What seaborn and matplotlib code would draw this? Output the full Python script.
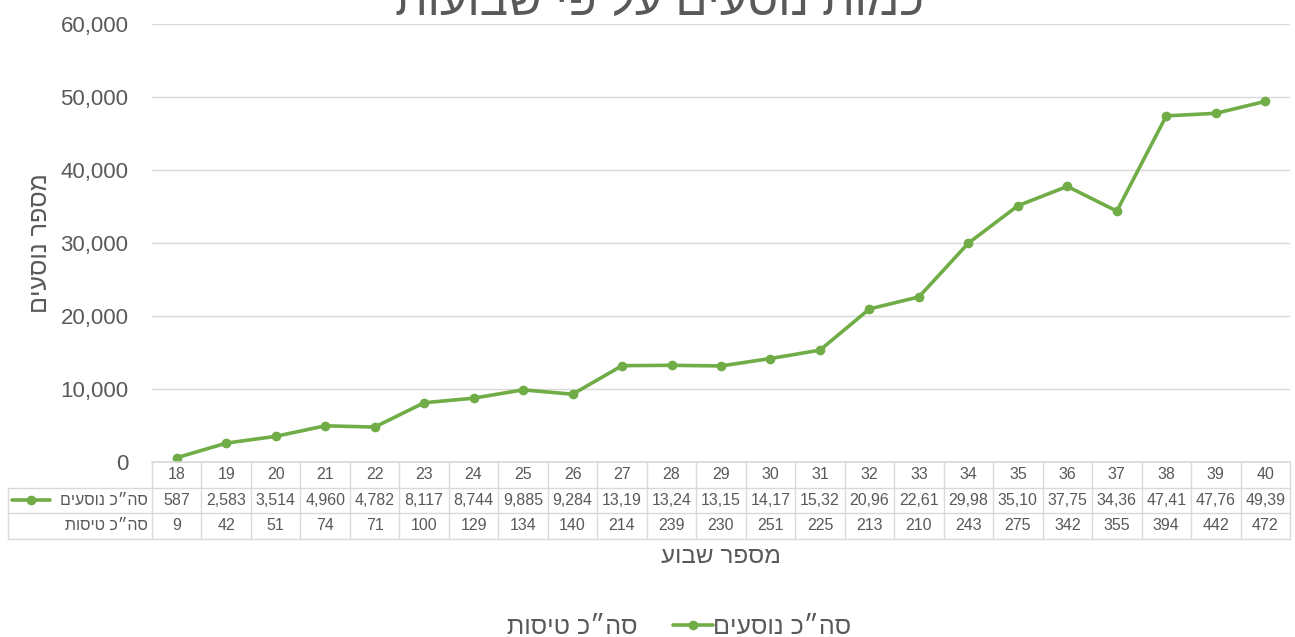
import matplotlib
matplotlib.use("Agg")
import matplotlib.pyplot as plt
import seaborn as sns
import pandas as pd
from matplotlib.lines import Line2D

weeks = list(range(18, 41))
passengers = [587, 2583, 3514, 4960, 4782, 8117, 8744, 9885, 9284, 13195, 13245, 13155,
              14175, 15325, 20965, 22615, 29985, 35105, 37755, 34365, 47415, 47765, 49395]
flights = [9, 42, 51, 74, 71, 100, 129, 134, 140, 214, 239, 230,
           251, 225, 213, 210, 243, 275, 342, 355, 394, 442, 472]
y_ticks = [0, 10000, 20000, 30000, 40000, 50000, 60000]

title = "כמות נוסעים על פי שבועות"
x_label = "מספר שבוע"
y_label = "מספר נוסעים"
pass_label = "סה״כ נוסעים"
flights_label = "סה״כ טיסות"


def heb(s):
    # matplotlib lays text out left to right, so flip Hebrew into visual order
    return s[::-1]


green = "#70AD47"
grey_txt = "#595959"
grid_col = "#D9D9D9"

sns.set_theme(style="white")
plt.rcParams['font.family'] = ['Liberation Sans', 'DejaVu Sans']

fig = plt.figure(figsize=(12.95, 6.37), dpi=100)
ax = fig.add_axes([152 / 1295, 1 - 462 / 637, 1138 / 1295, 438 / 637])

df = pd.DataFrame({"week": weeks, "passengers": passengers})
sns.lineplot(data=df, x="week", y="passengers", ax=ax, color=green, linewidth=2.6,
             marker="o", markersize=7, markeredgewidth=0)

ax.set_xlim(weeks[0] - 0.5, weeks[-1] + 0.5)
ax.set_ylim(0, 60000)
ax.set_yticks(y_ticks)
ax.set_yticklabels([f"{v:,}" for v in y_ticks], fontsize=16, color=grey_txt)
ax.set_xticks([])
ax.tick_params(axis="y", length=0, pad=17)
ax.yaxis.grid(True, color=grid_col, linewidth=1)
for s in ["top", "right", "left"]:
    ax.spines[s].set_visible(False)
ax.spines["bottom"].set_color(grid_col)
ax.set_xlabel("")
ax.set_ylabel(heb(y_label), fontsize=18, color=grey_txt, labelpad=6)

# data table under the axis
tr = ax.get_xaxis_transform()
rh = 25.5 / 438
col_px = 1138 / len(weeks)
x0 = weeks[0] - 0.5
x1 = weeks[-1] + 0.5
lab_left = x0 - 144 / col_px
lk = dict(color=grid_col, linewidth=1, transform=tr, clip_on=False)

for k in (1, 2, 3):
    ax.plot([lab_left, x1], [-k * rh, -k * rh], **lk)
for i in range(len(weeks) + 1):
    ax.plot([x0 + i, x0 + i], [0, -3 * rh], **lk)
ax.plot([lab_left, lab_left], [-rh, -3 * rh], **lk)

fs_tab = 11.5
tk = dict(ha="center", va="center", fontsize=fs_tab, color=grey_txt, transform=tr, clip_on=False)
for w, p, f in zip(weeks, passengers, flights):
    ax.text(w, -0.5 * rh, str(w), **tk)
    ax.text(w, -1.5 * rh, f"{p:,}"[:5], **tk)
    ax.text(w, -2.5 * rh, str(f), **tk)

lab_x = x0 - 4 / col_px
ax.text(lab_x, -1.5 * rh, heb(pass_label), ha="right", va="center", fontsize=fs_tab,
        color=grey_txt, transform=tr, clip_on=False)
ax.text(lab_x, -2.5 * rh, heb(flights_label), ha="right", va="center", fontsize=fs_tab,
        color=grey_txt, transform=tr, clip_on=False)
kx = [x0 - 140 / col_px, x0 - 102 / col_px]
ax.plot(kx, [-1.5 * rh] * 2, color=green, linewidth=2.6, transform=tr, clip_on=False)
ax.plot([sum(kx) / 2], [-1.5 * rh], "o", color=green, markersize=7, markeredgewidth=0,
        transform=tr, clip_on=False)

ax.text(0.5, -95 / 438, heb(x_label), ha="center", va="center", fontsize=17.5,
        color=grey_txt, transform=ax.transAxes)

fig.text(0.509, 1 - 15 / 637, heb(title), ha="center", va="baseline", fontsize=34,
         color=grey_txt)

h_pass = Line2D([], [], color=green, linewidth=2.6, marker="o", markersize=7,
                markeredgewidth=0)
h_fl = Line2D([], [], linestyle="none")
leg = fig.legend(handles=[h_fl, h_pass], labels=[heb(flights_label), heb(pass_label)],
                 loc="center", bbox_to_anchor=(0.509, 1 - 627 / 637), ncol=2, frameon=False,
                 fontsize=18, handlelength=1.6, handletextpad=0.0, columnspacing=1.4)
for t in leg.get_texts():
    t.set_color(grey_txt)

fig.savefig("out.png", dpi=100)
